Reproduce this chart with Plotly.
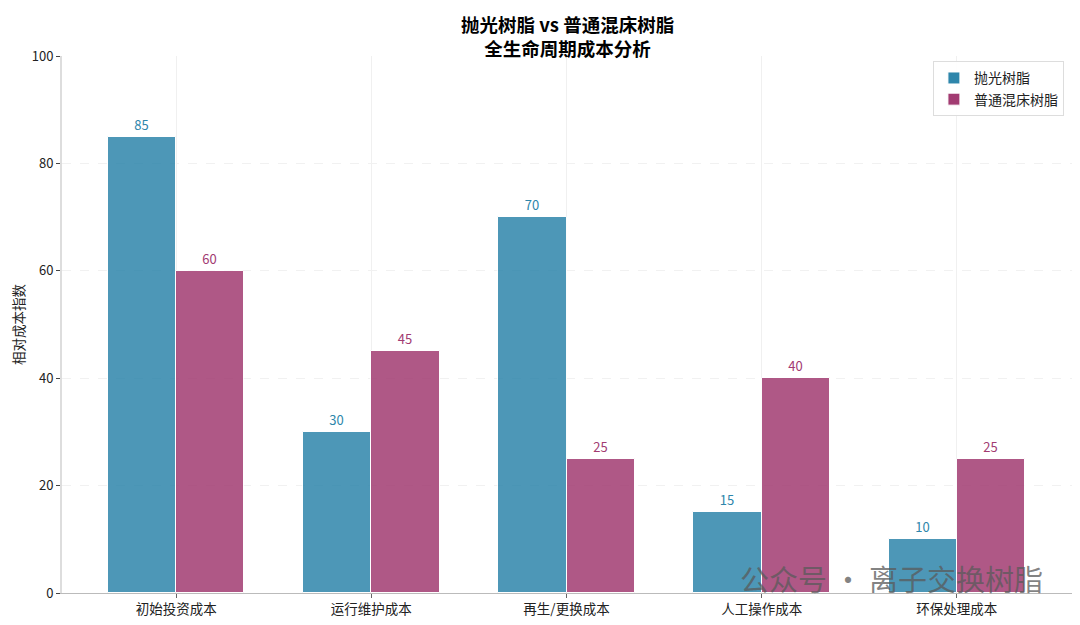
import plotly.graph_objects as go

# data
categories = ["初始投资成本", "运行维护成本", "再生/更换成本", "人工操作成本", "环保处理成本"]
polish = [85, 30, 70, 15, 10]
mixed = [60, 45, 25, 40, 25]
y_ticks = [0, 20, 40, 60, 80, 100]

FONT = "Noto Sans CJK SC"
BLUE = "#2E86AB"
PINK = "#A23B72"

x = list(range(len(categories)))
w = 0.35

fig = go.Figure()
fig.add_trace(go.Bar(
    x=[i - w / 2 for i in x], y=polish, width=w, name="抛光树脂",
    marker=dict(color=BLUE, opacity=0.85, line=dict(color="white", width=1)),
    text=polish, textposition="outside", cliponaxis=False,
    textfont=dict(color=BLUE, size=13, family=FONT),
))
fig.add_trace(go.Bar(
    x=[i + w / 2 for i in x], y=mixed, width=w, name="普通混床树脂",
    marker=dict(color=PINK, opacity=0.85, line=dict(color="white", width=1)),
    text=mixed, textposition="outside", cliponaxis=False,
    textfont=dict(color=PINK, size=13, family=FONT),
))

# page has an 8px body margin, so figure is a bit smaller than the window
fig.update_layout(
    width=1064, height=609,
    paper_bgcolor="white", plot_bgcolor="white",
    margin=dict(l=54, r=0, t=48, b=24, autoexpand=False),
    font=dict(family=FONT, size=13, color="#222"),
    bargap=0, barmode="overlay",
    legend=dict(x=0.992, y=0.99, xanchor="right", yanchor="top",
                bgcolor="rgba(255,255,255,0.9)", bordercolor="#ddd", borderwidth=1,
                font=dict(size=14)),
    xaxis=dict(
        range=[-0.585, 4.59], tickvals=x, ticktext=categories, automargin=False,
        showgrid=True, gridcolor="#f0f0f0", zeroline=False,
        showline=True, linecolor="#bbb", ticks="outside", ticklen=4, tickcolor="#666",
        tickfont=dict(size=13.5, color="#222"),
    ),
    yaxis=dict(
        range=[0, 100], tickvals=y_ticks, automargin=False,
        showgrid=True, gridcolor="#f1f1f1", griddash="dash", zeroline=False,
        showline=True, linecolor="#ddd", linewidth=2, ticks="outside", ticklen=4, tickcolor="#444",
        tickfont=dict(size=13, color="#222"),
        title=dict(text="相对成本指数", font=dict(size=13.5), standoff=18),
    ),
)

# two-line title
fig.add_annotation(text="<b>抛光树脂 vs 普通混床树脂<br>全生命周期成本分析</b>",
                   xref="paper", yref="paper", x=0.5, y=1.087,
                   xanchor="center", yanchor="top", showarrow=False,
                   font=dict(size=18.5, color="black"))

# watermark
fig.add_annotation(
    text="公众号 · 离子交换树脂", xref="paper", yref="paper",
    x=0.973, y=0.028, xanchor="right", yanchor="middle", showarrow=False,
    font=dict(size=29, color="rgba(90,90,90,0.75)", family=FONT),
)

fig.write_html("out.html")
